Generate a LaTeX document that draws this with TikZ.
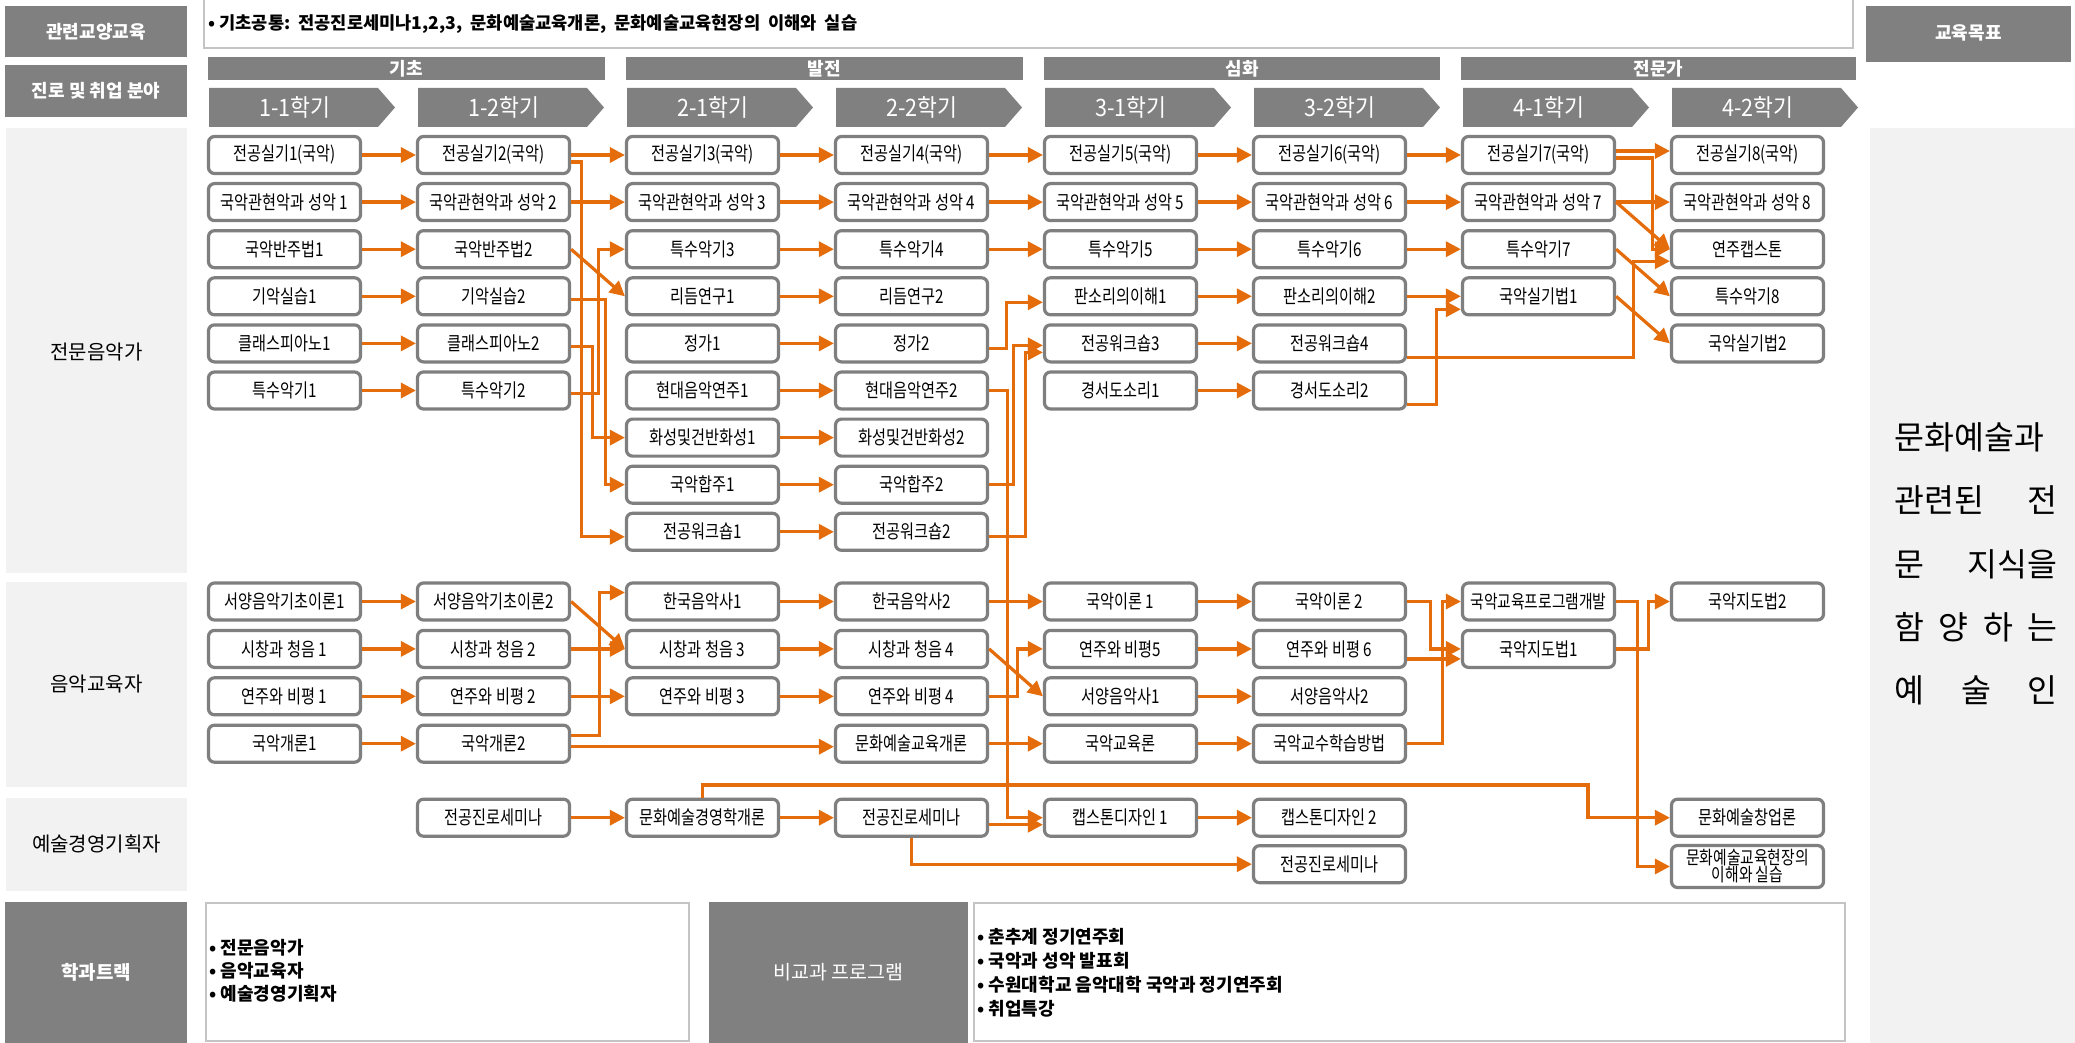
\documentclass[tikz,border=0pt]{standalone}
\usepackage{fontspec}
\setmainfont{Noto Sans CJK KR}
\newfontfamily\condfont[FakeStretch=0.8]{Noto Sans CJK KR}
\newfontfamily\chevfont[FakeStretch=0.9]{Noto Sans CJK KR}
\usetikzlibrary{arrows.meta,calc}
\definecolor{orng}{HTML}{E46C0A}
\definecolor{dgrey}{HTML}{808080}
\definecolor{lgrey}{HTML}{F2F2F2}
\definecolor{bgrey}{HTML}{7F7F7F}
\definecolor{frame}{HTML}{C4C4C4}
\def\ColA{284.5}\def\ColB{493.5}\def\ColC{702.5}\def\ColD{911.5}\def\ColE{1120.5}\def\ColF{1329.5}\def\ColG{1538.5}\def\ColH{1747.5}
\def\RowA{155}\def\RowB{202.1}\def\RowC{249.2}\def\RowD{296.3}\def\RowE{343.4}\def\RowF{390.5}\def\RowG{437.6}\def\RowH{484.7}\def\RowI{531.8}
\def\SecA{601.5}\def\SecB{648.9}\def\SecC{696.3}\def\SecD{743.7}
\def\TrA{817.7}\def\TrB{864.2}
\newcommand\mychev[3]{\fill[dgrey] (#1,88) -- ++(169,0) -- ++(17,19.5) -- ++(-17,19.5) -- ++(-169,0) -- cycle;
  \node[chevtext] (#2) at ($(#1,107.5)+(86,0)$) {#3};}
\begin{document}
\begin{tikzpicture}[x=1pt,y=-1pt,
  cbox/.style={draw=bgrey, line width=3.2pt, rounded corners=6pt, fill=white, minimum width=152pt, minimum height=37pt, inner sep=0pt, align=center, font=\condfont\fontsize{19}{19}\selectfont},
  arr/.style={draw=orng, line width=3.2pt, -{Triangle[length=15pt,width=15pt]}},
  htext/.style={text=white, font=\bfseries\fontsize{18}{20}\selectfont},
  chevtext/.style={text=white, font=\chevfont\fontsize{24}{26}\selectfont},
  labtext/.style={text=black, font=\fontsize{20}{22}\selectfont},
  bultext/.style={text=black, anchor=west, font=\bfseries\fontsize{18}{20}\selectfont},
  goaltext/.style={text=black, anchor=west, font=\fontsize{32.5}{36}\selectfont},
]
\useasboundingbox (0,0) rectangle (2075,1043);
\fill[white] (0,0) rectangle (2075,1043);
% ---------- top row ----------
\draw[frame, line width=2.5pt, fill=white] (204,-5) rectangle (1853,48);
\node[anchor=west, font=\bfseries\fontsize{17.6}{19}\selectfont] (topt) at (205,24) {• 기초공통:\ \ 전공진로세미나1,2,3,\ \ 문화예술교육개론,\ \ 문화예술교육현장의\ \ 이해와\ \ 실습};
\fill[dgrey] (5,6) rectangle (187,57); \node[htext] (lg1) at (96,31.5) {관련교양교육};
\fill[dgrey] (5,65) rectangle (187,117); \node[htext] (lg2) at (96,91) {진로 및 취업 분야};
\fill[dgrey] (1866,6) rectangle (2071,62); \node[htext] (goal) at (1968.5,33) {교육목표};
% stage bars
\fill[dgrey] (208,57) rectangle (605,80); \node[htext] (st1) at (406.5,68.5) {기초};
\fill[dgrey] (626,57) rectangle (1023,80); \node[htext] (st2) at (824.5,68.5) {발전};
\fill[dgrey] (1044,57) rectangle (1440,80); \node[htext] (st3) at (1242,68.5) {심화};
\fill[dgrey] (1461,57) rectangle (1856,80); \node[htext] (st4) at (1658.5,68.5) {전문가};
% chevrons
\mychev{209}{ch1}{1-1학기}
\mychev{418}{ch2}{1-2학기}
\mychev{627}{ch3}{2-1학기}
\mychev{836}{ch4}{2-2학기}
\mychev{1045}{ch5}{3-1학기}
\mychev{1254}{ch6}{3-2학기}
\mychev{1463}{ch7}{4-1학기}
\mychev{1672}{ch8}{4-2학기}
% ---------- side panels ----------
\fill[lgrey] (6,128) rectangle (187,573); \node[labtext] (sec1) at (96.5,352) {전문음악가};
\fill[lgrey] (6,582) rectangle (187,787); \node[labtext] (sec2) at (96.5,684) {음악교육자};
\fill[lgrey] (6,798) rectangle (187,891); \node[labtext] (sec3) at (96.5,844) {예술경영기획자};
\fill[lgrey] (1870,128) rectangle (2075,1043);
\node[goaltext] (gl1) at (1891,437) {\makebox[163pt][l]{문화예술과}};
\node[goaltext] (gl2) at (1891,500) {\makebox[163pt]{관련된\hfill 전}};
\node[goaltext] (gl3) at (1891,564) {\makebox[163pt]{문\hfill 지식을}};
\node[goaltext] (gl4) at (1891,627) {\makebox[163pt]{함\hfill 양\hfill 하\hfill 는}};
\node[goaltext] (gl5) at (1891,690) {\makebox[163pt]{예\hfill 술\hfill 인}};
% ---------- bottom ----------
\fill[dgrey] (5,902) rectangle (187,1043); \node[htext, font=\bfseries\fontsize{19}{21}\selectfont] (trk) at (96,972) {학과트랙};
\draw[frame, line width=2.5pt, fill=white] (206,903) rectangle (689,1041);
\node[bultext] (tk1) at (206,948) {• 전문음악가};
\node[bultext] (tk2) at (206,971) {• 음악교육자};
\node[bultext] (tk3) at (206,994) {• 예술경영기획자};
\fill[dgrey] (709,902) rectangle (968,1043); \node[text=white, font=\fontsize{19.5}{21}\selectfont] (ncp) at (838.5,972) {비교과 프로그램};
\draw[frame, line width=2.5pt, fill=white] (974,903) rectangle (1845,1041);
\node[bultext] (pg1) at (974,937) {• 춘추계 정기연주회};
\node[bultext] (pg2) at (974,961) {• 국악과 성악 발표회};
\node[bultext] (pg3) at (974,985) {• 수원대학교 음악대학 국악과 정기연주회};
\node[bultext] (pg4) at (974,1009) {• 취업특강};
% ---------- section 1 nodes ----------
\node[cbox] (a1) at (\ColA,\RowA) {전공실기1(국악)};
\node[cbox] (a2) at (\ColA,\RowB) {국악관현악과 성악 1};
\node[cbox] (a3) at (\ColA,\RowC) {국악반주법1};
\node[cbox] (a4) at (\ColA,\RowD) {기악실습1};
\node[cbox] (a5) at (\ColA,\RowE) {클래스피아노1};
\node[cbox] (a6) at (\ColA,\RowF) {특수악기1};
\node[cbox] (b1) at (\ColB,\RowA) {전공실기2(국악)};
\node[cbox] (b2) at (\ColB,\RowB) {국악관현악과 성악 2};
\node[cbox] (b3) at (\ColB,\RowC) {국악반주법2};
\node[cbox] (b4) at (\ColB,\RowD) {기악실습2};
\node[cbox] (b5) at (\ColB,\RowE) {클래스피아노2};
\node[cbox] (b6) at (\ColB,\RowF) {특수악기2};
\node[cbox] (c1) at (\ColC,\RowA) {전공실기3(국악)};
\node[cbox] (c2) at (\ColC,\RowB) {국악관현악과 성악 3};
\node[cbox] (c3) at (\ColC,\RowC) {특수악기3};
\node[cbox] (c4) at (\ColC,\RowD) {리듬연구1};
\node[cbox] (c5) at (\ColC,\RowE) {정가1};
\node[cbox] (c6) at (\ColC,\RowF) {현대음악연주1};
\node[cbox] (c7) at (\ColC,\RowG) {화성및건반화성1};
\node[cbox] (c8) at (\ColC,\RowH) {국악합주1};
\node[cbox] (c9) at (\ColC,\RowI) {전공워크숍1};
\node[cbox] (d1) at (\ColD,\RowA) {전공실기4(국악)};
\node[cbox] (d2) at (\ColD,\RowB) {국악관현악과 성악 4};
\node[cbox] (d3) at (\ColD,\RowC) {특수악기4};
\node[cbox] (d4) at (\ColD,\RowD) {리듬연구2};
\node[cbox] (d5) at (\ColD,\RowE) {정가2};
\node[cbox] (d6) at (\ColD,\RowF) {현대음악연주2};
\node[cbox] (d7) at (\ColD,\RowG) {화성및건반화성2};
\node[cbox] (d8) at (\ColD,\RowH) {국악합주2};
\node[cbox] (d9) at (\ColD,\RowI) {전공워크숍2};
\node[cbox] (e1) at (\ColE,\RowA) {전공실기5(국악)};
\node[cbox] (e2) at (\ColE,\RowB) {국악관현악과 성악 5};
\node[cbox] (e3) at (\ColE,\RowC) {특수악기5};
\node[cbox] (e4) at (\ColE,\RowD) {판소리의이해1};
\node[cbox] (e5) at (\ColE,\RowE) {전공워크숍3};
\node[cbox] (e6) at (\ColE,\RowF) {경서도소리1};
\node[cbox] (f1) at (\ColF,\RowA) {전공실기6(국악)};
\node[cbox] (f2) at (\ColF,\RowB) {국악관현악과 성악 6};
\node[cbox] (f3) at (\ColF,\RowC) {특수악기6};
\node[cbox] (f4) at (\ColF,\RowD) {판소리의이해2};
\node[cbox] (f5) at (\ColF,\RowE) {전공워크숍4};
\node[cbox] (f6) at (\ColF,\RowF) {경서도소리2};
\node[cbox] (g1) at (\ColG,\RowA) {전공실기7(국악)};
\node[cbox] (g2) at (\ColG,\RowB) {국악관현악과 성악 7};
\node[cbox] (g3) at (\ColG,\RowC) {특수악기7};
\node[cbox] (g4) at (\ColG,\RowD) {국악실기법1};
\node[cbox] (h1) at (\ColH,\RowA) {전공실기8(국악)};
\node[cbox] (h2) at (\ColH,\RowB) {국악관현악과 성악 8};
\node[cbox] (h3) at (\ColH,\RowC) {연주캡스톤};
\node[cbox] (h4) at (\ColH,\RowD) {특수악기8};
\node[cbox] (h5) at (\ColH,\RowE) {국악실기법2};
% ---------- section 2 nodes ----------
\node[cbox] (ma1) at (\ColA,\SecA) {서양음악기초이론1};
\node[cbox] (ma2) at (\ColA,\SecB) {시창과 청음 1};
\node[cbox] (ma3) at (\ColA,\SecC) {연주와 비평 1};
\node[cbox] (ma4) at (\ColA,\SecD) {국악개론1};
\node[cbox] (mb1) at (\ColB,\SecA) {서양음악기초이론2};
\node[cbox] (mb2) at (\ColB,\SecB) {시창과 청음 2};
\node[cbox] (mb3) at (\ColB,\SecC) {연주와 비평 2};
\node[cbox] (mb4) at (\ColB,\SecD) {국악개론2};
\node[cbox] (mc1) at (\ColC,\SecA) {한국음악사1};
\node[cbox] (mc2) at (\ColC,\SecB) {시창과 청음 3};
\node[cbox] (mc3) at (\ColC,\SecC) {연주와 비평 3};
\node[cbox] (md1) at (\ColD,\SecA) {한국음악사2};
\node[cbox] (md2) at (\ColD,\SecB) {시창과 청음 4};
\node[cbox] (md3) at (\ColD,\SecC) {연주와 비평 4};
\node[cbox] (md4) at (\ColD,\SecD) {문화예술교육개론};
\node[cbox] (me1) at (\ColE,\SecA) {국악이론 1};
\node[cbox] (me2) at (\ColE,\SecB) {연주와 비평5};
\node[cbox] (me3) at (\ColE,\SecC) {서양음악사1};
\node[cbox] (me4) at (\ColE,\SecD) {국악교육론};
\node[cbox] (mf1) at (\ColF,\SecA) {국악이론 2};
\node[cbox] (mf2) at (\ColF,\SecB) {연주와 비평 6};
\node[cbox] (mf3) at (\ColF,\SecC) {서양음악사2};
\node[cbox] (mf4) at (\ColF,\SecD) {국악교수학습방법};
\node[cbox, font=\condfont\fontsize{18.5}{19}\selectfont] (mg1) at (\ColG,\SecA) {국악교육프로그램개발};
\node[cbox] (mg2) at (\ColG,\SecB) {국악지도법1};
\node[cbox] (mh1) at (\ColH,\SecA) {국악지도법2};
% ---------- section 3 nodes ----------
\node[cbox] (pb1) at (\ColB,\TrA) {전공진로세미나};
\node[cbox] (pc1) at (\ColC,\TrA) {문화예술경영학개론};
\node[cbox] (pd1) at (\ColD,\TrA) {전공진로세미나};
\node[cbox] (pe1) at (\ColE,\TrA) {캡스톤디자인 1};
\node[cbox] (pf1) at (\ColF,\TrA) {캡스톤디자인 2};
\node[cbox] (pf2) at (\ColF,\TrB) {전공진로세미나};
\node[cbox] (ph1) at (\ColH,\TrA) {문화예술창업론};
\node[cbox, minimum height=42pt, font=\condfont\fontsize{18.5}{17}\selectfont] (ph2) at (\ColH,866.5) {문화예술교육현장의\\이해와 실습};
\coordinate (kk) at (1588,785);
% ---------- section 1 arrows ----------
\foreach \i in {1,...,6} {\draw[arr] (a\i.east) -- (b\i.west);}
\draw[arr] (b1.east) -- (c1.west);
\draw[arr] (b2.east) -- (c2.west);
\draw[arr] (b3.east) -- (c4.west);
\draw[arr] ($(b1.east)+(0,7)$) -- ++(10,0) |- ($(c9.west)+(0,5)$);
\draw[arr] ($(b5.east)+(0,3)$) -- ++(21.5,0) |- (c7.west);
\draw[arr] ($(b6.east)+(0,3)$) -- ++(27,0) |- (c3.west);
\draw[arr] ($(b4.east)+(0,3)$) -- ++(34,0) |- (c8.west);
\foreach \i in {1,...,9} {\draw[arr] (c\i.east) -- (d\i.west);}
\draw[arr] (d1.east) -- (e1.west);
\draw[arr] (d2.east) -- (e2.west);
\draw[arr] (d3.east) -- (e3.west);
\draw[arr] ($(d5.east)+(0,5)$) -- ++(17,0) |- ($(e4.west)+(0,6)$);
\draw[arr] (d8.east) -- ++(24,0) |- ($(e5.west)+(0,2)$);
\draw[arr] ($(d9.east)+(0,5)$) -- ++(36.5,0) |- ($(e5.west)+(0,9)$);
\draw[arr] (d6.east) -- ++(18,0) |- (pe1.west);
\foreach \i in {1,...,6} {\draw[arr] (e\i.east) -- (f\i.west);}
\draw[arr] (f1.east) -- (g1.west);
\draw[arr] (f2.east) -- (g2.west);
\draw[arr] (f3.east) -- (g3.west);
\draw[arr] (f4.east) -- (g4.west);
\draw[arr] ($(f6.east)+(0,14)$) -- ++(29,0) |- ($(g4.west)+(0,13)$);
\draw[arr] ($(f5.east)+(0,14)$) -- ++(226.5,0) |- ($(h3.west)+(0,12)$);
\draw[arr] ($(g1.east)+(0,-4)$) -- ($(h1.west)+(0,-4)$);
\draw[arr] ($(g1.east)+(0,3)$) -- ++(36.5,0) |- (h3.west);
\draw[arr] (g2.east) -- (h2.west);
\draw[arr] (g2.east) -- (h3.west);
\draw[arr] (g3.east) -- (h4.west);
\draw[arr] (g4.east) -- (h5.west);
% ---------- section 2 arrows ----------
\foreach \i in {1,...,4} {\draw[arr] (ma\i.east) -- (mb\i.west);}
\draw[arr] (mb1.east) -- (mc2.west);
\draw[arr] (mb2.east) -- (mc2.west);
\draw[arr] (mb3.east) -- (mc3.west);
\draw[arr] ($(mb4.east)+(0,-8)$) -- ++(28,0) |- ($(mc1.west)+(0,-9)$);
\draw[arr] ($(mb4.east)+(0,3)$) -- ($(md4.west)+(0,3)$);
\foreach \i in {1,...,3} {\draw[arr] (mc\i.east) -- (md\i.west);}
\draw[arr] (md1.east) -- (me1.west);
\draw[arr] (md2.east) -- (me3.west);
\draw[arr] (md3.east) -- ++(28.5,0) |- (me2.west);
\draw[arr] (md4.east) -- (me4.west);
\foreach \i in {1,...,4} {\draw[arr] (me\i.east) -- (mf\i.west);}
\draw[arr] (mf1.east) -- ++(23.5,0) |- (mg2.west);
\draw[arr] ($(mf2.east)+(0,10)$) -- ($(mg2.west)+(0,10)$);
\draw[arr] (mf4.east) -- ++(35,0) |- (mg1.west);
\draw[arr] (mg1.east) -- ++(21.5,0) |- (ph2.west);
\draw[arr] (mg2.east) -- ++(32.5,0) |- (mh1.west);
% ---------- section 3 arrows ----------
\draw[arr] (pb1.east) -- (pc1.west);
\draw[arr] (pc1.east) -- (pd1.west);
\draw[arr] ($(pd1.east)+(0,7)$) -- ($(pe1.west)+(0,7)$);
\draw[arr] (pe1.east) -- (pf1.west);
\draw[arr] (pd1.south) |- (pf2.west);
\draw[arr] (pc1.north) |- (kk) |- (ph1.west);
\end{tikzpicture}
\end{document}
